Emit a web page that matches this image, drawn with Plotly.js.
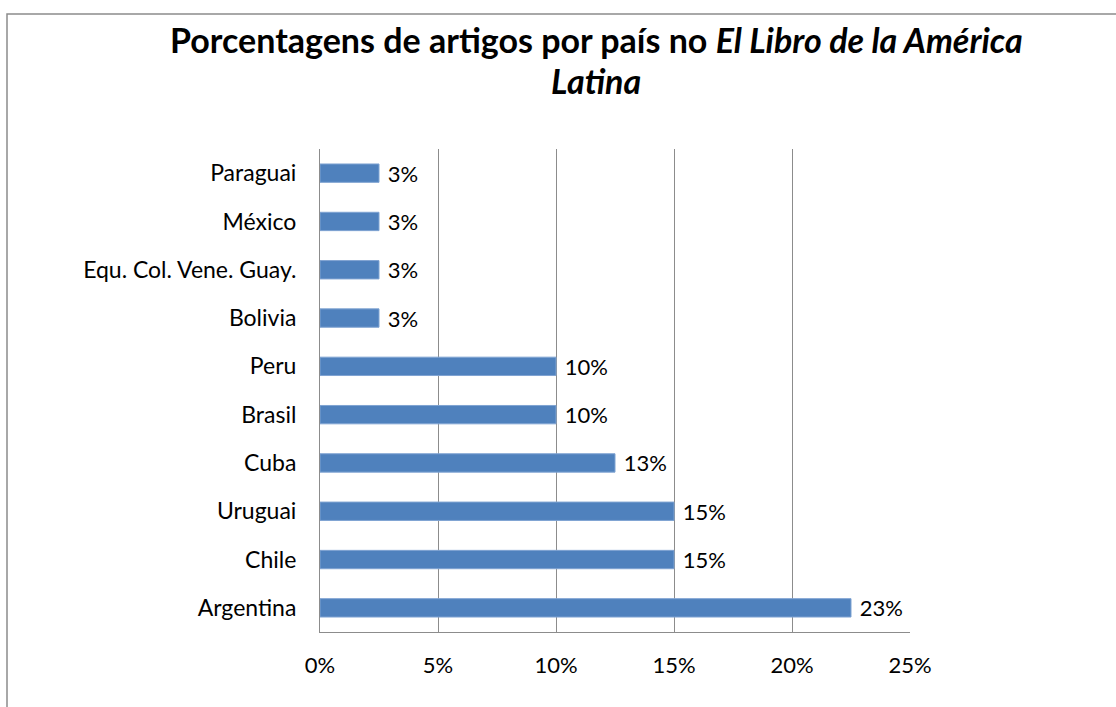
<!DOCTYPE html>
<html>
<head>
<meta charset="utf-8">
<script src="https://cdn.plot.ly/plotly-3.0.1.min.js"></script>
<style>html,body{margin:0;padding:0;background:#fff;}#chart{width:1116px;height:707px;}</style>
</head>
<body>
<div id="chart"></div>
<script>
const categories = ["Argentina","Chile","Uruguai","Cuba","Brasil","Peru","Bolivia","Equ. Col. Vene. Guay.","México","Paraguai"];
const values = [22.5, 15, 15, 12.5, 10, 10, 2.5, 2.5, 2.5, 2.5];
const valueLabels = ["23%","15%","15%","13%","10%","10%","3%","3%","3%","3%"];
const tickValues = [0, 5, 10, 15, 20, 25];
const tickLabels = ["0%","5%","10%","15%","20%","25%"];
const titleLine1 = "<b>Porcentagens de artigos por país no <i>El Libro de la América</i></b>";
const titleLine2 = "<b><i>Latina</i></b>";

const FONT = "Lato, Calibri, Carlito, 'Open Sans', sans-serif";
const W = 1116, H = 707;
const L = 320, R = 910, T = 149, B = 632;
const px = x => (x - L) / (R - L);
const py = y => (B - y) / (B - T);

const trace = {
  type: "bar",
  orientation: "h",
  y: categories,
  x: values,
  width: 0.38,
  marker: {color: "#4F81BD", line: {color: "#7FA3D2", width: 1}},
  text: valueLabels,
  texttemplate: " %{text}",
  textposition: "outside",
  constraintext: "none",
  cliponaxis: false,
  textfont: {family: FONT, size: 22, color: "#000"},
  hoverinfo: "none"
};

const layout = {
  width: W, height: H,
  margin: {l: L, r: W - R, t: T, b: H - B, pad: 0},
  paper_bgcolor: "#fff",
  plot_bgcolor: "#fff",
  showlegend: false,
  font: {family: FONT, color: "#000"},
  xaxis: {
    range: [0, 25],
    tickvals: tickValues,
    ticktext: tickLabels,
    showgrid: true,
    gridcolor: "#8C8C8C",
    gridwidth: 1,
    zeroline: false,
    showline: true,
    linecolor: "#8C8C8C",
    linewidth: 1,
    ticks: "",
    ticklabelstandoff: 14,
    tickfont: {family: FONT, size: 22, color: "#000"},
    fixedrange: true
  },
  yaxis: {
    type: "category",
    categoryorder: "array",
    categoryarray: categories,
    showgrid: false,
    zeroline: false,
    showline: true,
    linecolor: "#8C8C8C",
    linewidth: 1,
    ticks: "",
    ticklabelstandoff: 18,
    tickfont: {family: FONT, size: 23, color: "#000"},
    fixedrange: true
  },
  annotations: [
    {text: titleLine1, xref: "paper", yref: "paper", x: px(596), y: py(40),
     xanchor: "center", yanchor: "middle", showarrow: false,
     font: {family: FONT, size: 34, color: "#000"}},
    {text: titleLine2, xref: "paper", yref: "paper", x: px(596), y: py(80),
     xanchor: "center", yanchor: "middle", showarrow: false,
     font: {family: FONT, size: 34, color: "#000"}}
  ],
  shapes: [{
    type: "rect", xref: "paper", yref: "paper",
    x0: px(7), x1: px(1125), y0: py(716), y1: py(14),
    line: {color: "#8C8C8C", width: 1.5},
    fillcolor: "rgba(0,0,0,0)", layer: "below"
  }]
};

Plotly.newPlot("chart", [trace], layout, {displayModeBar: false, staticPlot: true});
</script>
</body>
</html>
